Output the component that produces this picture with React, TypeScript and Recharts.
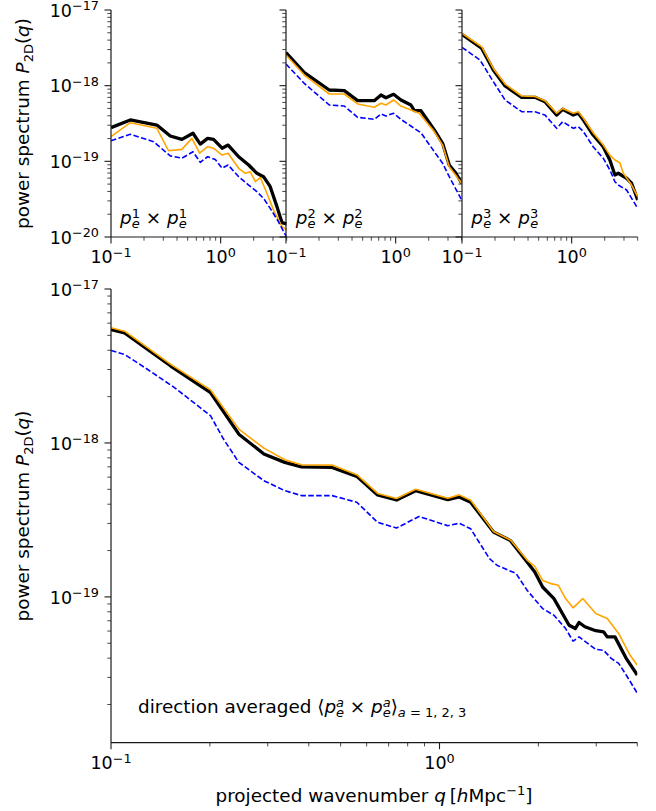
import React from 'react';
import { LineChart, Line, XAxis, YAxis } from 'recharts';

const FONT = '"DejaVu Sans", sans-serif';

// ---------- Panel 1: p_e^1 x p_e^1 ----------
const p1BlackQ = [0.1, 0.150, 0.262, 0.347, 0.443, 0.559, 0.652, 0.760, 0.861, 1.03, 1.17, 1.46, 1.80, 2.14, 2.46, 2.83, 3.26, 3.62, 4.0];
const p1BlackP = [2.79e-19, 3.52e-19, 3.02e-19, 2.16e-19, 1.95e-19, 2.35e-19, 1.69e-19, 2.01e-19, 1.95e-19, 1.49e-19, 1.64e-19, 1.15e-19, 8.95e-20, 6.95e-20, 6.27e-20, 4.62e-20, 2.52e-20, 1.55e-20, 1.49e-20];
const p1OrangeQ = [0.1, 0.150, 0.262, 0.335, 0.443, 0.547, 0.643, 0.760, 0.861, 1.03, 1.17, 1.46, 1.68, 1.86, 2.07, 2.30, 2.64, 3.03, 3.62, 4.0];
const p1OrangeP = [2.12e-19, 3.24e-19, 2.73e-19, 1.38e-19, 1.44e-19, 2.01e-19, 1.28e-19, 1.56e-19, 1.49e-19, 1.21e-19, 1.28e-19, 8.09e-20, 6.95e-20, 7.3e-20, 5.38e-20, 6.11e-20, 3.78e-20, 2.28e-20, 1.37e-20, 1.24e-20];
const p1BlueQ = [0.1, 0.150, 0.244, 0.347, 0.443, 0.559, 0.652, 0.760, 0.893, 1.03, 1.17, 1.46, 1.80, 2.14, 2.46, 2.83, 3.37, 4.0];
const p1BlueP = [1.87e-19, 2.28e-19, 1.82e-19, 1.18e-19, 1.1e-19, 1.34e-19, 9.7e-20, 1.15e-19, 1.06e-19, 8.1e-20, 8.95e-20, 6.27e-20, 4.86e-20, 3.97e-20, 3.24e-20, 2.39e-20, 1.59e-20, 9.9e-21];

// ---------- Panel 2: p_e^2 x p_e^2 ----------
const p2BlackQ = [0.1, 0.147, 0.248, 0.340, 0.450, 0.638, 0.735, 0.815, 0.957, 1.117, 1.377, 1.479, 1.70, 2.25, 2.68, 3.08, 3.55, 4.0];
const p2BlackP = [2.73e-18, 1.49e-18, 8.77e-19, 8.6e-19, 6.34e-19, 6.34e-19, 7.53e-19, 6.93e-19, 7.69e-19, 6.47e-19, 5.55e-19, 4.67e-19, 4.67e-19, 2.6e-19, 1.73e-19, 8.95e-20, 6.95e-20, 5.13e-20];
const p2OrangeQ = [0.1, 0.147, 0.248, 0.340, 0.450, 0.638, 0.735, 0.815, 0.957, 1.117, 1.377, 1.64, 2.25, 2.68, 3.08, 4.0];
const p2OrangeP = [2.54e-18, 1.38e-18, 7.76e-19, 7.76e-19, 5.73e-19, 5.18e-19, 5.85e-19, 5.55e-19, 6.47e-19, 5.38e-19, 4.76e-19, 4.32e-19, 2.47e-19, 1.64e-19, 8.5e-20, 5.13e-20];
const p2BlueQ = [0.1, 0.147, 0.248, 0.340, 0.450, 0.638, 0.735, 0.815, 0.957, 1.117, 1.479, 1.70, 2.25, 2.68, 3.08, 4.0];
const p2BlueP = [1.93e-18, 1.07e-18, 5.55e-19, 5.38e-19, 3.82e-19, 3.59e-19, 4.23e-19, 3.97e-19, 4.32e-19, 3.59e-19, 2.73e-19, 2.39e-19, 1.34e-19, 9.42e-20, 6.27e-20, 3.08e-20];

// ---------- Panel 3: p_e^3 x p_e^3 ----------
const p3BlackQ = [0.1, 0.151, 0.193, 0.247, 0.350, 0.463, 0.571, 0.730, 0.828, 1.035, 1.15, 1.28, 1.57, 1.94, 2.23, 2.48, 2.66, 3.17, 3.52, 4.0];
const p3BlackP = [4.77e-18, 3.12e-18, 1.61e-18, 9.9e-19, 7.02e-19, 7.02e-19, 6.15e-19, 4.09e-19, 4.88e-19, 4.09e-19, 4.32e-19, 3.52e-19, 2.23e-19, 1.56e-19, 1.04e-19, 6.6e-20, 6.95e-20, 5.97e-20, 5.13e-20, 3.08e-20];
const p3OrangeQ = [0.1, 0.151, 0.193, 0.247, 0.350, 0.463, 0.571, 0.730, 0.828, 1.035, 1.15, 1.28, 1.57, 1.94, 2.23, 2.48, 2.75, 2.96, 3.52, 4.0];
const p3OrangeP = [4.92e-18, 3.27e-18, 1.69e-18, 1.05e-18, 7.3e-19, 7.2e-19, 6.34e-19, 4.32e-19, 5.0e-19, 4.32e-19, 4.52e-19, 3.7e-19, 2.39e-19, 1.64e-19, 1.21e-19, 1.04e-19, 9.6e-20, 6.95e-20, 4.86e-20, 3.41e-20];
const p3BlueQ = [0.1, 0.146, 0.193, 0.247, 0.350, 0.463, 0.571, 0.730, 0.828, 1.035, 1.15, 1.28, 1.57, 1.94, 2.23, 2.48, 2.66, 3.17, 4.0];
const p3BlueP = [3.21e-18, 2.18e-18, 1.13e-18, 6.47e-19, 4.53e-19, 4.53e-19, 4.09e-19, 2.73e-19, 3.34e-19, 2.73e-19, 2.87e-19, 2.47e-19, 1.56e-19, 1.1e-19, 7.7e-20, 5.38e-20, 4.86e-20, 4.18e-20, 2.39e-20];

// ---------- Bottom panel: direction averaged ----------
const avgBlackQ = [0.1, 0.110, 0.152, 0.201, 0.245, 0.292, 0.338, 0.380, 0.471, 0.560, 0.648, 0.740, 0.846, 1.06, 1.148, 1.244, 1.46, 1.645, 1.85, 1.95, 2.06, 2.23, 2.48, 2.59, 2.66, 2.77, 2.99, 3.16, 3.24, 3.42, 3.70, 4.0];
const avgBlackP = [5.46e-18, 5.19e-18, 3.16e-18, 2.12e-18, 1.14e-18, 8.48e-19, 7.48e-19, 7.0e-19, 6.93e-19, 6.07e-19, 4.59e-19, 4.26e-19, 4.9e-19, 4.28e-19, 4.46e-19, 4.12e-19, 2.64e-19, 2.32e-19, 1.68e-19, 1.45e-19, 1.16e-19, 9.75e-20, 6.55e-20, 6.23e-20, 6.82e-20, 6.4e-20, 6.03e-20, 5.93e-20, 5.5e-20, 5.5e-20, 3.99e-20, 3.11e-20];
const avgOrangeQ = [0.1, 0.110, 0.152, 0.201, 0.245, 0.292, 0.338, 0.380, 0.471, 0.560, 0.648, 0.740, 0.846, 1.06, 1.148, 1.244, 1.46, 1.645, 1.85, 1.95, 2.06, 2.18, 2.30, 2.42, 2.55, 2.73, 2.99, 3.24, 3.51, 3.80, 4.0];
const avgOrangeP = [5.6e-18, 5.32e-18, 3.24e-18, 2.21e-18, 1.23e-18, 9.25e-19, 7.78e-19, 7.21e-19, 7.18e-19, 6.22e-19, 4.7e-19, 4.36e-19, 5.0e-19, 4.37e-19, 4.6e-19, 4.25e-19, 2.66e-19, 2.34e-19, 1.73e-19, 1.58e-19, 1.28e-19, 1.22e-19, 1.19e-19, 9.75e-20, 8.49e-20, 9.75e-20, 7.8e-20, 7.24e-20, 5.79e-20, 4.19e-20, 3.6e-20];
const avgBlueQ = [0.1, 0.110, 0.129, 0.156, 0.201, 0.22, 0.245, 0.292, 0.338, 0.380, 0.471, 0.560, 0.648, 0.740, 0.866, 1.06, 1.148, 1.244, 1.42, 1.50, 1.71, 1.85, 2.06, 2.23, 2.42, 2.55, 2.66, 2.99, 3.16, 3.33, 3.51, 3.70, 4.0];
const avgBlueP = [3.99e-18, 3.76e-18, 3.01e-18, 2.29e-18, 1.5e-18, 1.06e-18, 7.48e-19, 5.69e-19, 4.9e-19, 4.55e-19, 4.55e-19, 4.12e-19, 3.05e-19, 2.8e-19, 3.33e-19, 2.9e-19, 3.01e-19, 2.77e-19, 1.77e-19, 1.6e-19, 1.42e-19, 1.1e-19, 8.4e-20, 7.6e-20, 6.23e-20, 5.16e-20, 5.5e-20, 4.56e-20, 4.5e-20, 3.99e-20, 3.7e-20, 3.11e-20, 2.37e-20];

// ---------- axes ----------
const xDomain: [number, number] = [0.1, 4.0];
const xTickValues = [0.1, 0.2, 0.3, 0.4, 0.5, 0.6, 0.7, 0.8, 0.9, 1, 2, 3, 4];
const topYDomain: [number, number] = [1e-20, 1e-17];
const bottomYDomain: [number, number] = [1.13e-20, 1e-17];
const yDecades = [-20, -19, -18, -17];
const annotationSups = ['1', '2', '3'];

const logTicks = (dom: [number, number]) => {
  const out: number[] = [];
  yDecades.forEach((d) => {
    for (let m = 1; m <= 9; m++) {
      const v = m * Math.pow(10, d);
      if (v >= dom[0] * 0.999 && v <= dom[1] * 1.001) out.push(v);
    }
  });
  return out;
};

const mk = (q: number[], p: number[]) => q.map((x, i) => ({ q: x, p: p[i] }));

const isMajor = (v: number) => {
  const l = Math.log10(v);
  return Math.abs(l - Math.round(l)) < 1e-6;
};
const expText = (v: number) => {
  const e = Math.round(Math.log10(v));
  return e < 0 ? '\u2212' + String(-e) : String(e);
};

const AX = '#1a1a1a';
const TICK_FS = 17.5;
const SUP_FS = 12.8;
const LABEL_FS = 18.4;

const renderXTick = (props: any) => {
  const { x, y, payload } = props;
  const v = payload.value;
  const maj = isMajor(v);
  return (
    <g>
      <line x1={x} y1={y} x2={x} y2={y + (maj ? 6.5 : 3.7)} stroke={AX} strokeWidth={maj ? 1.1 : 0.8} />
      {maj && (
        <text x={x} y={y + 26.5} textAnchor="middle" fontSize={TICK_FS} fontFamily={FONT} fill="#000">
          10<tspan dy={-6.6} fontSize={SUP_FS}>{expText(v)}</tspan>
        </text>
      )}
    </g>
  );
};

const makeYTick = (showLabels: boolean) => (props: any) => {
  const { x, y, payload } = props;
  const v = payload.value;
  const maj = isMajor(v);
  return (
    <g>
      <line x1={x} y1={y} x2={x - (maj ? 6.5 : 3.7)} y2={y} stroke={AX} strokeWidth={maj ? 1.1 : 0.8} />
      {maj && showLabels && (
        <text x={x - 12} y={y + 6.6} textAnchor="end" fontSize={TICK_FS} fontFamily={FONT} fill="#000">
          10<tspan dy={-6.6} fontSize={SUP_FS}>{expText(v)}</tspan>
        </text>
      )}
    </g>
  );
};

type Series = { data: { q: number; p: number }[]; color: string; width: number; dash?: string };

const makeSeries = (bq: number[], bp: number[], oq: number[], op: number[], uq: number[], up: number[]): Series[] => [
  { data: mk(bq, bp), color: '#000000', width: 3.3 },
  { data: mk(oq, op), color: '#FFA500', width: 1.6 },
  { data: mk(uq, up), color: '#0000FF', width: 1.6, dash: '5.5 2.4' },
];

function Panel(props: {
  left: number; top: number; plotW: number; plotH: number;
  yDomain: [number, number]; showYLabels: boolean; series: Series[];
}) {
  const { left, top, plotW, plotH, yDomain, showYLabels, series } = props;
  const YW = 100, XH = 40, MR = 6;
  const MT = Math.min(20, top);
  const axisLine = { stroke: AX, strokeWidth: 1.2 };
  return (
    <div style={{ position: 'absolute', left: left - YW, top: top - MT }}>
      <LineChart width={YW + plotW + MR} height={MT + plotH + XH} margin={{ top: MT, right: MR, bottom: 0, left: 0 }}>
        <XAxis xAxisId="b" type="number" dataKey="q" scale="log" domain={xDomain} allowDataOverflow
          ticks={xTickValues} interval={0} tickSize={0} tickMargin={0} tickLine={false}
          tick={renderXTick} height={XH} axisLine={axisLine} />
        <XAxis xAxisId="t" orientation="top" type="number" dataKey="q" scale="log" domain={xDomain} allowDataOverflow
          height={0} tick={false} tickLine={false} axisLine={axisLine} />
        <YAxis yAxisId="l" type="number" scale="log" domain={yDomain} allowDataOverflow
          ticks={logTicks(yDomain)} interval={0} tickSize={0} tickMargin={0} tickLine={false}
          tick={makeYTick(showYLabels)} width={YW} axisLine={axisLine} />
        <YAxis yAxisId="r" orientation="right" type="number" scale="log" domain={yDomain} allowDataOverflow
          width={0} tick={false} tickLine={false} axisLine={axisLine} />
        {series.map((s, i) => (
          <Line key={i} xAxisId="b" yAxisId="l" data={s.data} dataKey="p" type="linear"
            stroke={s.color} strokeWidth={s.width} strokeDasharray={s.dash}
            strokeLinejoin="round" strokeLinecap="butt"
            dot={false} activeDot={false} isAnimationActive={false} />
        ))}
      </LineChart>
    </div>
  );
}

const PeTerm = (sup: string, key: string, italicSup: boolean) => [
  <tspan key={key + 'p'} fontStyle="italic">p</tspan>,
  <tspan key={key + 's'} fontSize={13} dy={-6.5} fontStyle={italicSup ? 'italic' : 'normal'}>{sup}</tspan>,
  <tspan key={key + 'e'} fontSize={13} fontStyle="italic" dx={-8.1} dy={10}>e</tspan>,
];

function YLabel({ cy }: { cy: number }) {
  return (
    <text transform={`translate(29, ${cy}) rotate(-90)`} textAnchor="middle" fontSize={LABEL_FS} fontFamily={FONT} fill="#000">
      power spectrum <tspan fontStyle="italic">P</tspan>
      <tspan fontSize={13} dy={3.5}>2D</tspan>
      <tspan dy={-3.5}>(</tspan>
      <tspan fontStyle="italic">q</tspan>)
    </text>
  );
}

export default function App() {
  const topLefts = [110.7, 286.4, 462.0];
  const topW = 175.7;
  const topSeries = [
    makeSeries(p1BlackQ, p1BlackP, p1OrangeQ, p1OrangeP, p1BlueQ, p1BlueP),
    makeSeries(p2BlackQ, p2BlackP, p2OrangeQ, p2OrangeP, p2BlueQ, p2BlueP),
    makeSeries(p3BlackQ, p3BlackP, p3OrangeQ, p3OrangeP, p3BlueQ, p3BlueP),
  ];
  const avgSeries = makeSeries(avgBlackQ, avgBlackP, avgOrangeQ, avgOrangeP, avgBlueQ, avgBlueP);

  return (
    <div style={{ position: 'absolute', left: 0, top: 0, width: 656, height: 811, overflow: 'hidden', background: '#fff', fontFamily: FONT }}>
      {topLefts.map((l, i) => (
        <Panel key={i} left={l} top={10} plotW={topW} plotH={227} yDomain={topYDomain}
          showYLabels={i === 0} series={topSeries[i]} />
      ))}
      <Panel left={111} top={289.3} plotW={526.3} plotH={453.7} yDomain={bottomYDomain}
        showYLabels={true} series={avgSeries} />
      <svg width={656} height={811} style={{ position: 'absolute', left: 0, top: 0, pointerEvents: 'none' }}>
        <YLabel cy={123.5} />
        <YLabel cy={516} />
        <text x={374} y={801.5} textAnchor="middle" fontSize={LABEL_FS} fontFamily={FONT} fill="#000">
          projected wavenumber <tspan fontStyle="italic">q</tspan>{'\u2009['}
          <tspan fontStyle="italic">h</tspan>Mpc
          <tspan fontSize={13} dy={-7}>{'\u22121'}</tspan>
          <tspan dy={7}>]</tspan>
        </text>
        {annotationSups.map((s, i) => (
          <text key={s} x={topLefts[i] + 9.3} y={224} fontSize={LABEL_FS} fontFamily={FONT} fill="#000">
            {PeTerm(s, 'a' + i, false)}
            <tspan dy={-3.5}>{' \u00d7 '}</tspan>
            {PeTerm(s, 'b' + i, false)}
          </text>
        ))}
        <text x={138} y={713} fontSize={LABEL_FS} fontFamily={FONT} fill="#000">
          {'direction averaged \u27e8'}
          {PeTerm('a', 'c', true)}
          <tspan dy={-3.5}>{' \u00d7 '}</tspan>
          {PeTerm('a', 'd', true)}
          <tspan dy={-3.5}>{'\u27e9'}</tspan>
          <tspan fontSize={13} dy={4}><tspan fontStyle="italic">a</tspan>{' = 1, 2, 3'}</tspan>
        </text>
      </svg>
    </div>
  );
}
